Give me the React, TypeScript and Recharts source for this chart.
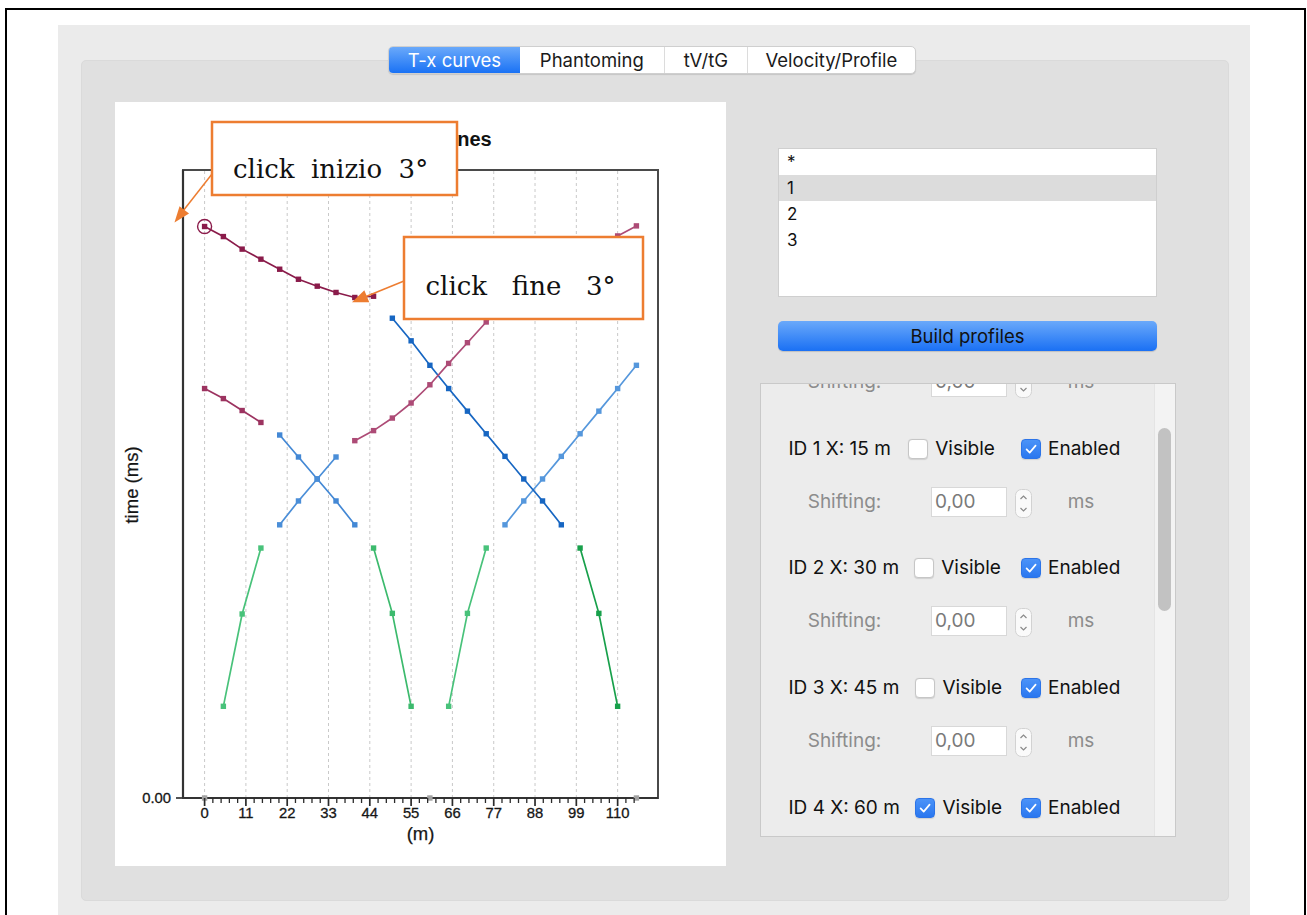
import React from 'react';
import { LineChart, Line, XAxis, YAxis, ReferenceLine, ReferenceArea, ReferenceDot } from 'recharts';

// ---------------- data ----------------
const majorTicks = [0, 11, 22, 33, 44, 55, 66, 77, 88, 99, 110];
const minorTicks = [
  0, 2.2, 4.4, 6.6, 8.8, 11, 13.2, 15.4, 17.6, 19.8, 22, 24.2, 26.4, 28.6, 30.8, 33, 35.2, 37.4, 39.6, 41.8,
  44, 46.2, 48.4, 50.6, 52.8, 55, 57.2, 59.4, 61.6, 63.8, 66, 68.2, 70.4, 72.6, 74.8, 77, 79.2, 81.4, 83.6, 85.8,
  88, 90.2, 92.4, 94.6, 96.8, 99, 101.2, 103.4, 105.6, 107.8, 110, 112.2, 114.4,
];
const yTicks = [0];
const xDomain: [number, number] = [-5.75, 120.75];
const yDomain: [number, number] = [0, 100];

const inizioX = [0, 5, 10, 15, 20, 25, 30, 35, 40, 45];
const inizioT = [91.0, 89.4, 87.4, 85.8, 84.2, 82.6, 81.5, 80.5, 79.7, 79.9];
const maroonLowX = [0, 5, 10, 15];
const maroonLowT = [65.2, 63.6, 61.7, 59.8];
const maroonRightX = [40, 45, 50, 55, 60, 65, 70, 75, 80, 85, 90, 95, 100, 105, 110, 115];
const maroonRightT = [56.9, 58.5, 60.5, 62.9, 65.8, 69.2, 72.5, 75.8, 78.6, 81.1, 83.3, 85.2, 86.9, 88.3, 89.5, 91.1];
const blueDownLongX = [50, 55, 60, 65, 70, 75, 80, 85, 90, 95];
const blueDownLongT = [76.4, 72.8, 68.9, 65.2, 61.6, 58.0, 54.4, 50.8, 47.3, 43.5];
const blueUpLongX = [80, 85, 90, 95, 100, 105, 110, 115];
const blueUpLongT = [43.5, 47.3, 50.8, 54.4, 58.0, 61.6, 65.2, 68.9];
const blueDownShortX = [20, 25, 30, 35, 40];
const blueDownShortT = [57.8, 54.3, 50.8, 47.3, 43.5];
const blueUpShortX = [20, 25, 30, 35];
const blueUpShortT = [43.5, 47.3, 50.8, 54.3];
const greenAX = [5, 10, 15];
const greenAT = [14.6, 29.3, 39.8];
const greenBX = [45, 50, 55];
const greenBT = [39.8, 29.4, 14.6];
const greenCX = [65, 70, 75];
const greenCT = [14.6, 29.4, 39.8];
const greenDX = [100, 105, 110];
const greenDT = [39.8, 29.4, 14.6];
const shotX = [0, 60, 115];
const shotT = [0, 0, 0];

const tabLabels = ['T-x curves', 'Phantoming', 'tV/tG', 'Velocity/Profile'];
const listItems = ['*', '1', '2', '3'];
const idRows = [
  { label: 'ID 1 X: 15 m', visible: false },
  { label: 'ID 2 X: 30 m', visible: false },
  { label: 'ID 3 X: 45 m', visible: false },
  { label: 'ID 4 X: 60 m', visible: true },
];

const pts = (xs: number[], ts: number[]) => xs.map((x, i) => ({ x, t: ts[i] }));

const series = [
  { name: 'greenA', data: pts(greenAX, greenAT), color: '#48c27a', line: true },
  { name: 'greenB', data: pts(greenBX, greenBT), color: '#3cba6d', line: true },
  { name: 'greenC', data: pts(greenCX, greenCT), color: '#48c27a', line: true },
  { name: 'greenD', data: pts(greenDX, greenDT), color: '#18a04b', line: true },
  { name: 'blueDownShort', data: pts(blueDownShortX, blueDownShortT), color: '#4388d5', line: true },
  { name: 'blueUpShort', data: pts(blueUpShortX, blueUpShortT), color: '#4a8ed8', line: true },
  { name: 'blueUpLong', data: pts(blueUpLongX, blueUpLongT), color: '#5597dc', line: true },
  { name: 'blueDownLong', data: pts(blueDownLongX, blueDownLongT), color: '#1766c2', line: true },
  { name: 'maroonLow', data: pts(maroonLowX, maroonLowT), color: '#9c3360', line: true },
  { name: 'maroonRight', data: pts(maroonRightX, maroonRightT), color: '#ad4b76', line: true },
  { name: 'inizio', data: pts(inizioX, inizioT), color: '#8a1b4a', line: true },
  { name: 'shots', data: pts(shotX, shotT), color: '#a3a3a3', line: false },
];

const CHART_FONT = '"Liberation Sans", Arial, Helvetica, sans-serif';
const UI_FONT = 'Inter, "Liberation Sans", Arial, sans-serif';
const SERIF = '"DejaVu Serif", "Liberation Serif", serif';

function XTick(props: any) {
  const { x, y, payload } = props;
  const v = Number(payload?.value);
  const major = majorTicks.some((m) => Math.abs(m - v) < 1e-6);
  return (
    <g>
      <line x1={x} x2={x} y1={y} y2={y + (major ? 8 : 5)} stroke="#2b2b2b" strokeWidth={major ? 1.7 : 1.3} />
      {major && (
        <text x={x} y={y + 20} textAnchor="middle" fontSize={14.8} fill="#161616" stroke="#161616" strokeWidth={0.3} fontFamily={CHART_FONT}>
          {String(v)}
        </text>
      )}
    </g>
  );
}

const squareDot = (name: string, color: string) => (p: any) => {
  if (p.cx == null || p.cy == null) return <g key={`${name}-${p.index}`} />;
  return <rect key={`${name}-${p.index}`} x={p.cx - 2.7} y={p.cy - 2.7} width={5.4} height={5.4} fill={color} />;
};

const YLabel = (p: any) => {
  const vb = p?.viewBox || { x: 28, y: 68, width: 40, height: 628 };
  const cx = vb.x - 11.5;
  const cy = vb.y + vb.height / 2 + 1;
  return (
    <text x={cx} y={cy} transform={`rotate(-90, ${cx}, ${cy})`} textAnchor="middle" dominantBaseline="central" fontSize={18.5} fill="#161616" stroke="#161616" strokeWidth={0.25} fontFamily={CHART_FONT}>
      time (ms)
    </text>
  );
};

const XLabel = (p: any) => {
  const vb = p?.viewBox || { x: 68, y: 696, width: 475, height: 40 };
  return (
    <text x={vb.x + vb.width / 2} y={vb.y + 41.5} textAnchor="middle" fontSize={18.5} fill="#161616" stroke="#161616" strokeWidth={0.25} fontFamily={CHART_FONT}>
      (m)
    </text>
  );
};

function Chart() {
  return (
    <LineChart width={611} height={764} margin={{ top: 68, right: 68, left: 28, bottom: 28 }}>
      <XAxis
        dataKey="x"
        type="number"
        domain={xDomain}
        ticks={minorTicks}
        interval={0}
        tick={<XTick />}
        tickSize={0}
        tickMargin={0}
        tickLine={false}
        axisLine={{ stroke: '#333', strokeWidth: 2.2 }}
        height={40}
        label={{ content: XLabel } as any}
      />
      <YAxis
        type="number"
        domain={yDomain}
        ticks={yTicks}
        tickFormatter={(v: any) => Number(v).toFixed(2)}
        width={40}
        tickSize={7}
        tickMargin={5}
        axisLine={{ stroke: '#333', strokeWidth: 2.2 }}
        tickLine={{ stroke: '#333', strokeWidth: 1.7 }}
        tick={{ fontSize: 14.8, fill: '#161616', stroke: '#161616', strokeWidth: 0.3, fontFamily: CHART_FONT }}
        label={{ content: YLabel } as any}
      />
      {majorTicks.map((t) => (
        <ReferenceLine key={`g${t}`} x={t} stroke="#c9c9c9" strokeDasharray="3 3" strokeWidth={1} />
      ))}
      <ReferenceArea x1={xDomain[0]} x2={xDomain[1]} y1={yDomain[0]} y2={yDomain[1]} fill="none" fillOpacity={0} stroke="#4a4a4a" strokeWidth={2} />
      {series.map((s) => (
        <Line
          key={s.name}
          data={s.data}
          dataKey="t"
          type="linear"
          stroke={s.line ? s.color : 'none'}
          strokeWidth={s.line ? 1.7 : 0}
          dot={squareDot(s.name, s.color)}
          activeDot={false}
          isAnimationActive={false}
        />
      ))}
      <ReferenceDot x={inizioX[0]} y={inizioT[0]} r={7} fill="none" fillOpacity={0} stroke="#8a1b4a" strokeWidth={1.4} />
    </LineChart>
  );
}

function Checkbox({ checked, left, top }: { checked: boolean; left: number; top: number }) {
  return (
    <div
      style={{
        position: 'absolute',
        left,
        top,
        width: 20,
        height: 20,
        boxSizing: 'border-box',
        borderRadius: 4,
        background: checked ? 'linear-gradient(#4b93f8, #2a77ef)' : '#fff',
        border: checked ? '1px solid #2c74e8' : '1px solid #c6c6c6',
        boxShadow: '0 0.5px 1px rgba(0,0,0,0.12)',
      }}
    >
      {checked && (
        <svg width={20} height={20} style={{ position: 'absolute', left: -1, top: -1 }}>
          <path d="M5.6 10.4 L8.7 13.6 L14.6 6.6" stroke="#fff" strokeWidth={1.7} fill="none" strokeLinecap="round" strokeLinejoin="round" />
        </svg>
      )}
    </div>
  );
}

function Spinner({ left, top }: { left: number; top: number }) {
  return (
    <svg width={17} height={29} style={{ position: 'absolute', left, top }}>
      <rect x={0.5} y={0.5} width={16} height={28} rx={6} fill="#fafafa" stroke="#d2d2d2" />
      <path d="M5.5 10 L8.5 7 L11.5 10" stroke="#8a8a8a" strokeWidth={1.2} fill="none" />
      <path d="M5.5 19 L8.5 22 L11.5 19" stroke="#8a8a8a" strokeWidth={1.2} fill="none" />
    </svg>
  );
}

function ShiftRow({ cy }: { cy: number }) {
  return (
    <>
      <div style={{ position: 'absolute', left: 46.7, top: cy - 13, height: 26, lineHeight: '26px', fontSize: 19, color: '#8c8c8c' }}>Shifting:</div>
      <div
        style={{
          position: 'absolute',
          left: 170,
          top: cy - 15,
          width: 76,
          height: 30,
          boxSizing: 'border-box',
          background: '#fff',
          border: '1px solid #d8d8d8',
          fontSize: 19,
          lineHeight: '28px',
          color: '#7a7a7a',
          paddingLeft: 3,
        }}
      >
        0,00
      </div>
      <Spinner left={253.5} top={cy - 13} />
      <div style={{ position: 'absolute', left: 306.7, top: cy - 13, height: 26, lineHeight: '26px', fontSize: 19, color: '#8c8c8c' }}>ms</div>
    </>
  );
}

const visibleBoxLeft = [146.7, 152.7, 154, 154];
const idRowCy = [65.3, 184.3, 303.7, 423.7];
const shiftRowCy = [-2, 117.7, 237, 357];

function arrowHead(x1: number, y1: number, x2: number, y2: number, len: number, half: number) {
  const dx = x2 - x1;
  const dy = y2 - y1;
  const d = Math.sqrt(dx * dx + dy * dy);
  const ux = dx / d;
  const uy = dy / d;
  const bx = x2 - ux * len;
  const by = y2 - uy * len;
  return `${x2},${y2} ${bx - uy * half},${by + ux * half} ${bx + uy * half},${by - ux * half}`;
}

export default function App() {
  return (
    <div style={{ position: 'relative', width: 1307, height: 915, background: '#fff', overflow: 'hidden', fontFamily: UI_FONT }}>
      <style>{'body{margin:0;}'}</style>
      {/* outer black frame */}
      <div style={{ position: 'absolute', left: 5, top: 8, width: 1301, height: 920, boxSizing: 'border-box', border: '2px solid #000' }} />
      {/* window */}
      <div style={{ position: 'absolute', left: 58, top: 25, width: 1192, height: 900, background: '#ebebeb' }} />
      {/* tab panel */}
      <div style={{ position: 'absolute', left: 81, top: 60, width: 1148, height: 841, boxSizing: 'border-box', background: '#e0e0e0', borderRadius: 5, border: '1px solid #dadada' }} />
      {/* tabs */}
      <div
        style={{
          position: 'absolute',
          left: 388,
          top: 46,
          width: 528,
          height: 28,
          boxSizing: 'border-box',
          background: '#fff',
          borderRadius: 5,
          border: '1px solid #cfcfcf',
          boxShadow: '0 1px 1px rgba(0,0,0,0.12)',
          display: 'flex',
          overflow: 'hidden',
        }}
      >
        {tabLabels.map((t, i) => {
          const widths = [131, 144.5, 83, 168.5];
          const sel = i === 0;
          return (
            <div
              key={t}
              style={{
                width: widths[i],
                height: '100%',
                boxSizing: 'border-box',
                textAlign: 'center',
                lineHeight: '26px',
                fontSize: 18.5,
                color: sel ? '#fff' : '#1a1a1a',
                background: sel ? 'linear-gradient(#6aa9fa, #1a72f5)' : 'transparent',
                borderLeft: i > 1 ? '1px solid #dcdcdc' : 'none',
              }}
            >
              {t}
            </div>
          );
        })}
      </div>

      {/* chart area */}
      <div style={{ position: 'absolute', left: 115, top: 102, width: 611, height: 764, background: '#fff' }}>
        <div
          style={{
            position: 'absolute',
            left: 0,
            width: 611,
            top: 26,
            textAlign: 'center',
            fontFamily: CHART_FONT,
            fontWeight: 'bold',
            fontSize: 20,
            color: '#111',
          }}
        >
          Dromochrones
        </div>
        <div style={{ position: 'absolute', left: 0, top: 0 }}>
          <Chart />
        </div>
      </div>

      {/* list */}
      <div style={{ position: 'absolute', left: 778, top: 148, width: 379, height: 149, boxSizing: 'border-box', background: '#fff', border: '1px solid #cfcfcf' }}>
        {listItems.map((it, i) => (
          <div
            key={it}
            style={{
              position: 'absolute',
              left: 0,
              top: i * 26,
              width: '100%',
              height: 26,
              lineHeight: '26px',
              paddingLeft: 8,
              boxSizing: 'border-box',
              background: i === 1 ? '#dcdcdc' : 'transparent',
              fontSize: 17,
              color: '#111',
            }}
          >
            {it}
          </div>
        ))}
      </div>

      {/* button */}
      <div
        style={{
          position: 'absolute',
          left: 778,
          top: 321,
          width: 379,
          height: 30,
          borderRadius: 5,
          background: 'linear-gradient(#6aa9fa, #1a70f4)',
          boxShadow: '0 1px 1px rgba(0,0,0,0.15)',
          textAlign: 'center',
          lineHeight: '30px',
          fontSize: 18.5,
          color: '#111',
        }}
      >
        Build profiles
      </div>

      {/* scroll panel */}
      <div style={{ position: 'absolute', left: 760, top: 383, width: 416, height: 454, boxSizing: 'border-box', background: '#ececec', border: '1px solid #c9c9c9', overflow: 'hidden' }}>
        <div style={{ position: 'absolute', left: 393, top: 0, width: 22, height: 454, background: '#f3f3f3', borderLeft: '1px solid #e4e4e4' }} />
        <div style={{ position: 'absolute', left: 397, top: 44, width: 13, height: 183, borderRadius: 7, background: '#c2c2c2' }} />
        {idRows.map((r, i) => (
          <React.Fragment key={r.label}>
            <div style={{ position: 'absolute', left: 27.5, top: idRowCy[i] - 13, height: 26, lineHeight: '26px', fontSize: 19, color: '#111', whiteSpace: 'nowrap' }}>{r.label}</div>
            <Checkbox checked={r.visible} left={visibleBoxLeft[i]} top={idRowCy[i] - 10} />
            <div style={{ position: 'absolute', left: visibleBoxLeft[i] + 27.5, top: idRowCy[i] - 13, height: 26, lineHeight: '26px', fontSize: 19, color: '#111' }}>Visible</div>
            <Checkbox checked={true} left={260} top={idRowCy[i] - 10} />
            <div style={{ position: 'absolute', left: 287, top: idRowCy[i] - 13, height: 26, lineHeight: '26px', fontSize: 19, color: '#111' }}>Enabled</div>
          </React.Fragment>
        ))}
        {shiftRowCy.map((cy) => (
          <ShiftRow key={cy} cy={cy} />
        ))}
      </div>

      {/* annotations */}
      <svg width={1307} height={915} style={{ position: 'absolute', left: 0, top: 0, pointerEvents: 'none' }}>
        <line x1={212} y1={174} x2={183} y2={211} stroke="#ed7d31" strokeWidth={1.5} />
        <polygon points={arrowHead(212, 174, 174.5, 222.5, 16, 6)} fill="#ed7d31" />
        <line x1={404} y1={281} x2={366} y2={296.5} stroke="#ed7d31" strokeWidth={1.5} />
        <polygon points={arrowHead(404, 281, 352, 302.3, 16, 6.5)} fill="#ed7d31" />
        <rect x={212} y={122} width={245} height={73} fill="#fff" stroke="#ed7d31" strokeWidth={2.5} />
        <text x={233} y={178} fontFamily={SERIF} fontSize={26} fill="#111" style={{ whiteSpace: 'pre' }}>
          {'click  inizio  3°'}
        </text>
        <rect x={404} y={237} width={239} height={82} fill="#fff" stroke="#ed7d31" strokeWidth={2.5} />
        <text x={425.5} y={295} fontFamily={SERIF} fontSize={26} fill="#111" style={{ whiteSpace: 'pre' }}>
          {'click   fine   3°'}
        </text>
      </svg>
    </div>
  );
}
